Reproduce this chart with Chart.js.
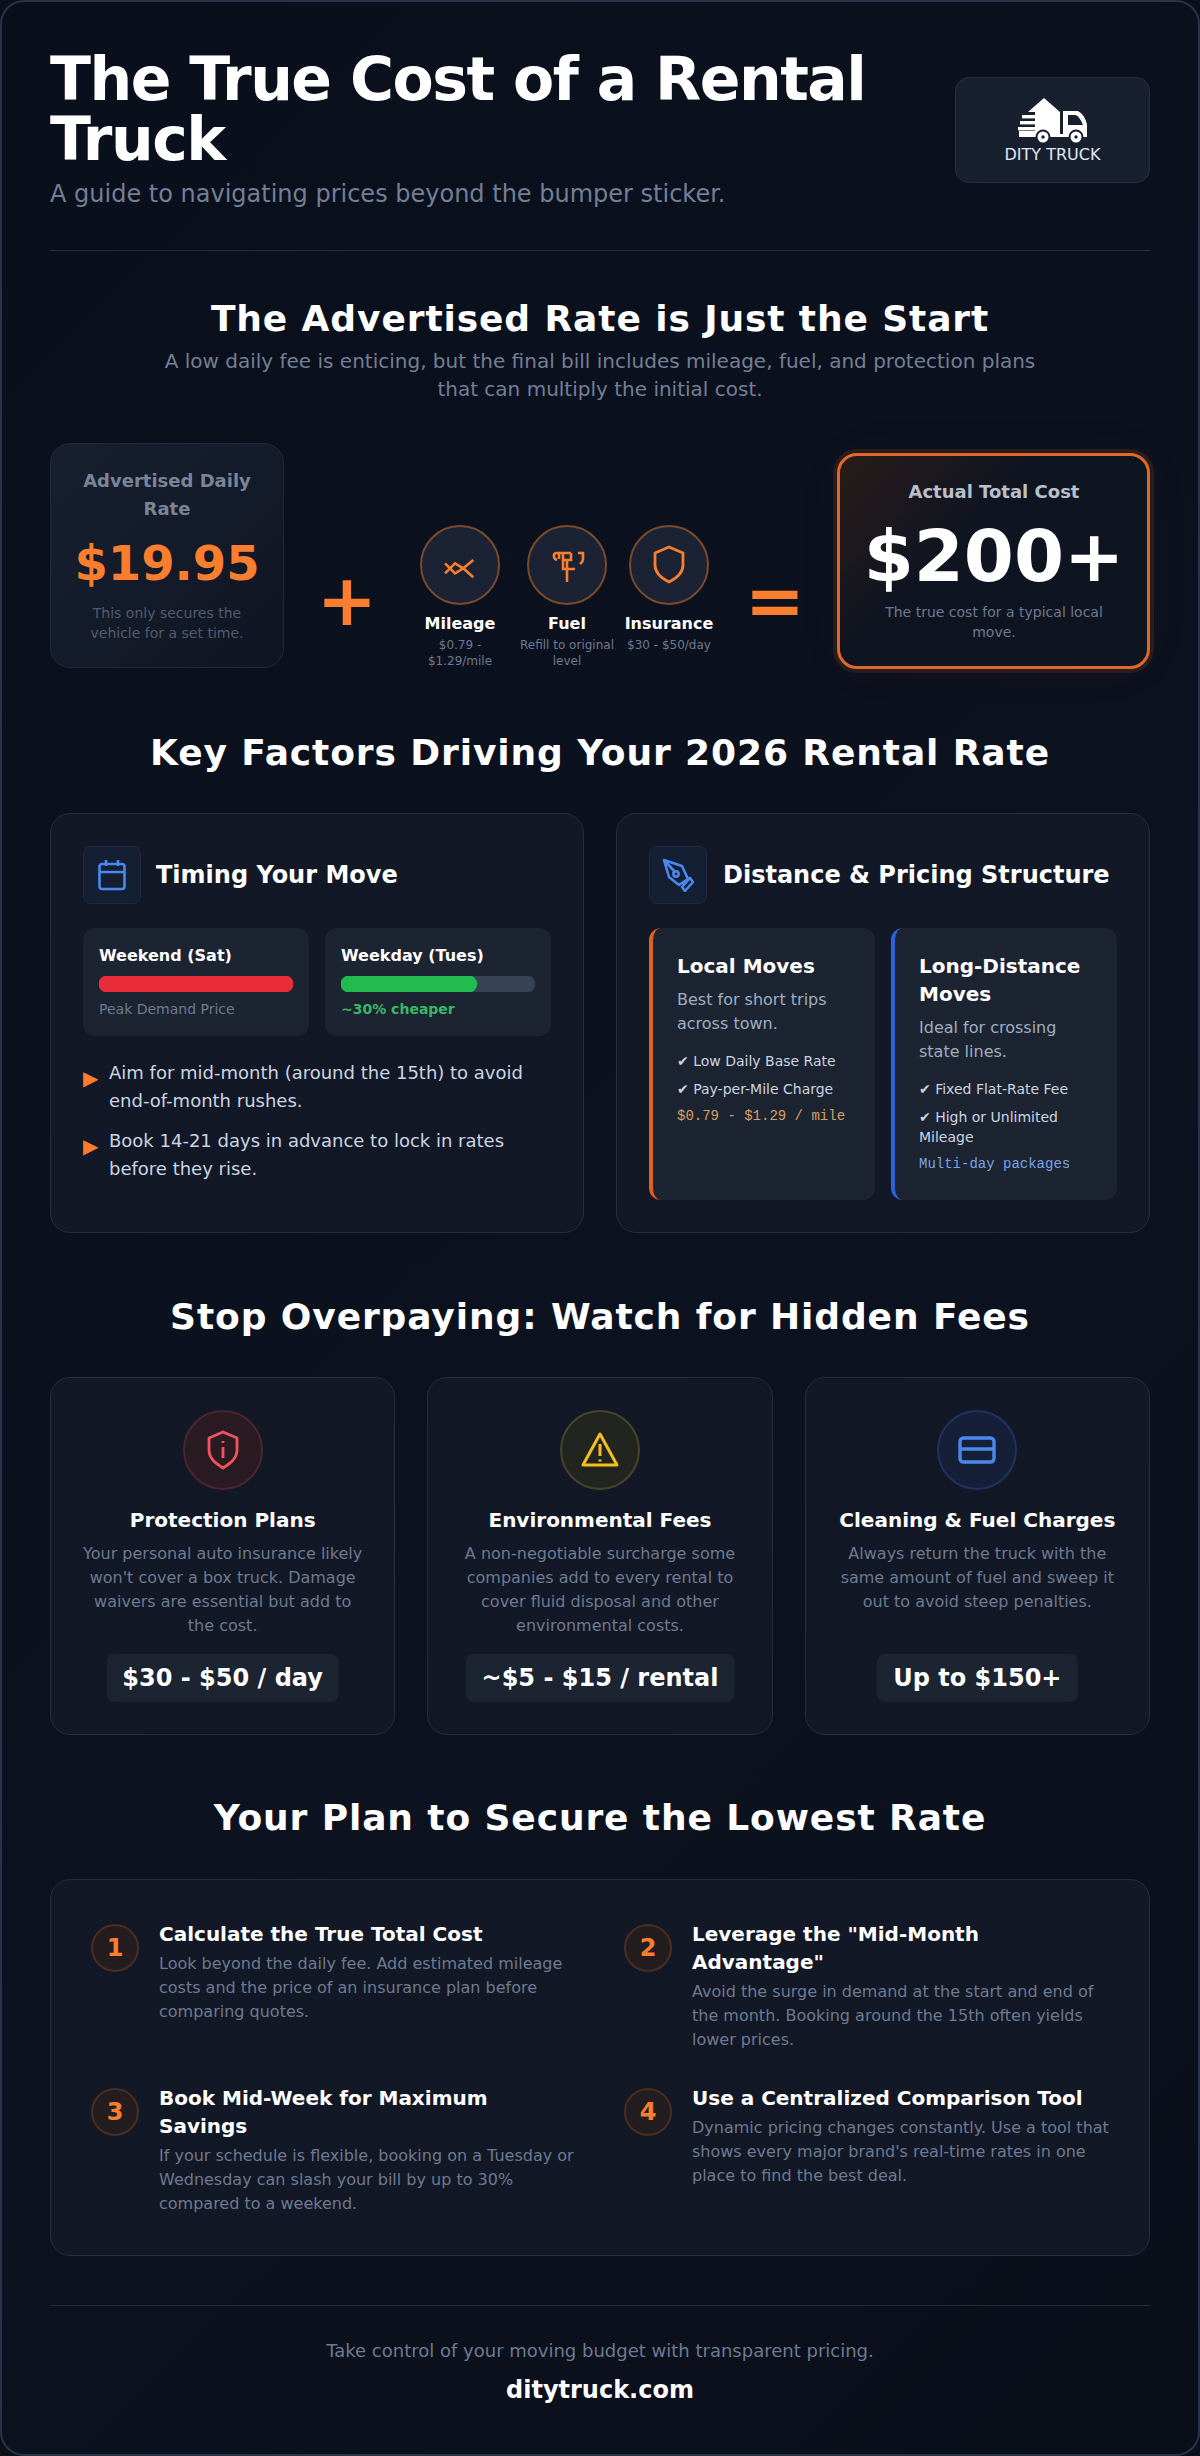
<!DOCTYPE html>
<html lang="en">
<head>
<meta charset="utf-8">
<title>The True Cost of a Rental Truck</title>
<script src="https://cdn.jsdelivr.net/npm/chart.js@4"></script>
<style>
* { box-sizing: border-box; margin: 0; padding: 0; }
html, body { width: 1200px; height: 2456px; background: #0a0f1a; overflow: hidden; }
body { font-family: "DejaVu Sans", sans-serif; color: #fff; position: relative; }
.page { position: absolute; inset: 0; border: 2px solid #2a3347; border-radius: 24px; background: linear-gradient(135deg, #0a0f1c, #0c121f 60%, #0a0f1a); }
.abs { position: absolute; }
.card { position: absolute; background: #121826; border: 1px solid #262d3d; border-radius: 20px; }
h1 { position: absolute; left: 50px; top: 49px; width: 860px; font-size: 60px; line-height: 60px; font-weight: 700; letter-spacing: -1.5px; }
.sub { position: absolute; left: 50px; top: 178px; font-size: 24px; line-height: 32px; color: #747f96; }
.rule { position: absolute; left: 50px; width: 1100px; height: 1px; background: #232b3c; }
.h2 { position: absolute; left: 0; width: 1200px; text-align: center; font-size: 36px; line-height: 44px; font-weight: 700; letter-spacing: 0.9px; }
.lead { position: absolute; left: 150px; width: 900px; text-align: center; font-size: 20px; line-height: 28px; color: #747f96; }
.logo { position: absolute; left: 955px; top: 77px; width: 195px; height: 106px; background: #182030; border: 1px solid #262f41; border-radius: 14px; }
.logo svg { position: absolute; left: 62px; top: 20px; }
.logo span { position: absolute; left: 0; width: 100%; top: 66px; text-align: center; font-size: 16px; line-height: 22px; color: #e2e8f0; }
.center { text-align: center; }
.op { position: absolute; font-weight: 700; color: #f97f2f; font-size: 72px; line-height: 80px; text-align: center; width: 80px; }
.ic { position: absolute; width: 80px; height: 80px; border-radius: 50%; background: #1a2233; border: 2px solid #7a4a2c; }
.ic svg, .fee-ic svg { position: absolute; left: 50%; top: 50%; transform: translate(-50%, -50%); }
.ic-lbl { position: absolute; text-align: center; font-size: 16px; font-weight: 700; line-height: 22px; }
.ic-sub { position: absolute; text-align: center; font-size: 12px; line-height: 16px; color: #6f7a90; }
.tile { position: absolute; width: 58px; height: 58px; background: #151f34; border: 1px solid #1f2a42; border-radius: 8px; }
.tile svg { position: absolute; left: 50%; top: 50%; transform: translate(-50%, -50%); }
.h3 { position: absolute; font-size: 24px; line-height: 32px; font-weight: 700; }
.box { position: absolute; background: #1c2331; border-radius: 12px; }
.box b.t { position: absolute; left: 16px; top: 17px; font-size: 16px; line-height: 22px; }
.box canvas { position: absolute; left: 16px; top: 48px; width: 194px; height: 16px; }
.box span { position: absolute; left: 16px; top: 70px; font-size: 14px; line-height: 22px; }
.tri { position: absolute; left: 83px; font-size: 20px; line-height: 28px; color: #f97f2f; }
.bul { position: absolute; left: 109px; width: 440px; font-size: 18px; line-height: 28px; color: #cbd5e1; }
.plan { position: absolute; top: 928px; width: 226px; height: 272px; background: #1c2331; border-radius: 12px; border-left: 4px solid; padding: 24px; }
.plan h4 { font-size: 20px; line-height: 28px; font-weight: 700; }
.plan p { font-size: 16px; line-height: 24px; color: #a0aec0; margin-top: 8px; margin-bottom: 15px; }
.plan li { list-style: none; font-size: 14px; line-height: 20px; color: #cbd5e1; margin-bottom: 8px; }
.plan code { display: block; font-family: "Liberation Mono", monospace; font-size: 14px; line-height: 18px; }
.fee { position: absolute; top: 1377px; height: 358px; width: 345.33px; background: #121826; border: 1px solid #262d3d; border-radius: 20px; text-align: center; }
.fee-ic { position: absolute; left: calc(50% - 40px); top: 32px; width: 80px; height: 80px; border-radius: 50%; border: 2px solid; }
.fee h4 { position: absolute; left: 0; width: 100%; top: 128px; font-size: 20px; line-height: 28px; }
.fee p { position: absolute; left: 28px; right: 28px; top: 164px; font-size: 16px; line-height: 24px; color: #6f7a90; }
.fee b { position: absolute; left: 50%; transform: translateX(-50%); top: 276px; height: 48px; padding: 0 16px; background: #1c2331; border-radius: 8px; font-size: 24px; line-height: 48px; white-space: nowrap; }
.num { position: absolute; width: 48px; height: 48px; border-radius: 50%; background: #241d20; border: 2px solid #4a2e20; color: #f97f2f; font-size: 24px; font-weight: 700; line-height: 44px; text-align: center; }
.step { position: absolute; width: 417px; }
.step h4 { font-size: 20px; line-height: 28px; font-weight: 700; }
.step p { font-size: 16px; line-height: 24px; color: #6f7a90; margin-top: 4px; }
</style>
</head>
<body>
<div class="page"></div>

<h1>The True Cost of a Rental Truck</h1>
<div class="sub">A guide to navigating prices beyond the bumper sticker.</div>
<div class="logo">
  <svg width="70" height="50" viewBox="0 0 70 50" fill="#fff">
    <path d="M26 0 L42 14 H38 L42 14 V36 H69 V28 C68 20 63 13 58 13 H45 V36 H1 V33 H17 V14 H10 Z"/>
    <path d="M45 13 H58 C63 13 68 20 69 28 V39 H1 V36 H45 Z"/>
    <path d="M50 17 H57 C60 17 63 22 65 27 H50 Z" fill="#182030"/>
    <rect x="4" y="17" width="15" height="3.4"/><rect x="2" y="23" width="17" height="3.4"/><rect x="0" y="29" width="19" height="3.4"/>
    <circle cx="25" cy="39" r="7.5" fill="#182030"/><circle cx="25" cy="39" r="5.5"/><circle cx="25" cy="39" r="1.7" fill="#182030"/>
    <circle cx="58" cy="39" r="7.5" fill="#182030"/><circle cx="58" cy="39" r="5.5"/><circle cx="58" cy="39" r="1.7" fill="#182030"/>
  </svg>
  <span>DITY TRUCK</span>
</div>
<div class="rule" style="top:250px"></div>

<div class="h2" style="top:297px">The Advertised Rate is Just the Start</div>
<div class="lead" style="top:347px">A low daily fee is enticing, but the final bill includes mileage, fuel, and protection plans that can multiply the initial cost.</div>

<div class="card" style="left:50px;top:443px;width:234px;height:225px;background:linear-gradient(135deg,#182030,#0f1522);border-color:#222a3a"></div>
<div class="abs center" style="left:66px;top:467px;width:202px;font-size:18px;line-height:28px;font-weight:700;color:#7b859a">Advertised Daily Rate</div>
<div class="abs center" style="left:50px;top:533px;width:234px;font-size:48px;line-height:60px;font-weight:700;color:#f97f2f">$19.95</div>
<div class="abs center" style="left:70px;top:603px;width:194px;font-size:14px;line-height:20px;color:#525c70">This only secures the vehicle for a set time.</div>

<div class="op" style="left:307px;top:560px">+</div>

<div class="ic" style="left:420px;top:525px"><svg width="40" height="28" viewBox="0 0 40 28" fill="none" stroke="#f97f2f" stroke-width="2.6"><path d="M5 12.3 L15 22.3 L23.3 17.3 L15 12.3 L5 22.3 M23.3 17.3 L33.3 9 M23.3 17.3 L33.3 26.3"/></svg></div>
<div class="ic" style="left:527px;top:525px"><svg width="40" height="40" viewBox="0 0 40 40" fill="none" stroke="#f97f2f" stroke-width="2.6"><path d="M10 15 C6 14 6 8 9 8 H24 M12 8 V14 M16 8 V15 H24 V8 M20 15 V37 M16 15 V24 H28 M31 8 H36 V14 C36 17 34 18 33 19"/></svg></div>
<div class="ic" style="left:629px;top:525px"><svg width="34" height="40" viewBox="0 0 34 40" fill="none" stroke="#f97f2f" stroke-width="2.8" stroke-linejoin="round"><path d="M17 2 L31 8 V20 C31 28 25 33 17 37 C9 33 3 28 3 20 V8 Z"/></svg></div>
<div class="ic-lbl" style="left:420px;top:613px;width:80px">Mileage</div>
<div class="ic-lbl" style="left:517px;top:613px;width:100px">Fuel</div>
<div class="ic-lbl" style="left:619px;top:613px;width:100px">Insurance</div>
<div class="ic-sub" style="left:410px;top:637px;width:100px">$0.79 - $1.29/mile</div>
<div class="ic-sub" style="left:517px;top:637px;width:100px">Refill to original level</div>
<div class="ic-sub" style="left:619px;top:637px;width:100px">$30 - $50/day</div>

<div class="op" style="left:735px;top:560px">=</div>

<div class="abs" style="left:837px;top:453px;width:313px;height:216px;border:3px solid #e0692a;border-radius:20px;background:linear-gradient(135deg,#291c1a,#0f1421 40%);box-shadow:0 0 0 4px rgba(249,115,22,.12),0 0 60px rgba(249,115,22,.03)"></div>
<div class="abs center" style="left:838px;top:478px;width:312px;font-size:18px;line-height:28px;font-weight:700;color:#b8c0cc">Actual Total Cost</div>
<div class="abs center" style="left:838px;top:512px;width:312px;font-size:72px;line-height:88px;font-weight:700">$200+</div>
<div class="abs center" style="left:874px;top:602px;width:240px;font-size:14px;line-height:20px;color:#6f7a90">The true cost for a typical local move.</div>

<div class="h2" style="top:731px">Key Factors Driving Your 2026 Rental Rate</div>

<div class="card" style="left:50px;top:813px;width:534px;height:420px"></div>
<div class="tile" style="left:83px;top:846px"><svg width="30" height="32" viewBox="0 0 30 32" fill="none" stroke="#4a88ec" stroke-width="2.6" stroke-linejoin="round"><rect x="2.5" y="5" width="25" height="25" rx="2.5"/><path d="M2.5 13 H27.5 M9 1 V7 M21 1 V7"/></svg></div>
<div class="h3" style="left:156px;top:859px">Timing Your Move</div>
<div class="box" style="left:83px;top:928px;width:226px;height:108px">
  <b class="t" id="lbl0"></b><canvas id="bar0" width="194" height="16"></canvas>
  <span id="note0" style="color:#6f7a90"></span>
</div>
<div class="box" style="left:325px;top:928px;width:226px;height:108px">
  <b class="t" id="lbl1"></b><canvas id="bar1" width="194" height="16"></canvas>
  <span id="note1" style="color:#36b866;font-weight:700"></span>
</div>
<div class="tri" style="top:1064px">&#9654;</div>
<div class="bul" style="top:1059px">Aim for mid-month (around the 15th) to avoid end-of-month rushes.</div>
<div class="tri" style="top:1132px">&#9654;</div>
<div class="bul" style="top:1127px">Book 14-21 days in advance to lock in rates before they rise.</div>

<div class="card" style="left:616px;top:813px;width:534px;height:420px"></div>
<div class="tile" style="left:649px;top:846px"><svg width="32" height="34" viewBox="0 0 32 34" fill="none" stroke="#4a88ec" stroke-width="2.6" stroke-linejoin="round"><path d="M2 2 L20 8 L26 21 L17 27 L7 19 Z M2 2 L13 14 M20 29 L28 20 L31 24 L23 33 Z"/><circle cx="14" cy="16" r="2.6"/></svg></div>
<div class="h3" style="left:723px;top:859px">Distance &amp; Pricing Structure</div>
<div class="plan" style="left:649px;border-color:#e0601f">
  <h4>Local Moves</h4>
  <p>Best for short trips across town.</p>
  <ul><li>&#10004; Low Daily Base Rate</li><li>&#10004; Pay-per-Mile Charge</li></ul>
  <code style="color:#d9a066">$0.79 - $1.29 / mile</code>
</div>
<div class="plan" style="left:891px;border-color:#2f62d8">
  <h4>Long-Distance Moves</h4>
  <p>Ideal for crossing state lines.</p>
  <ul><li>&#10004; Fixed Flat-Rate Fee</li><li>&#10004; High or Unlimited Mileage</li></ul>
  <code style="color:#7ba4e8">Multi-day packages</code>
</div>

<div class="h2" style="top:1295px">Stop Overpaying: Watch for Hidden Fees</div>

<div class="fee" style="left:50px">
  <div class="fee-ic" style="background:#2a1a22;border-color:#4c2530"><svg width="32" height="40" viewBox="0 0 32 40" fill="none" stroke="#ef5460" stroke-width="2.8" stroke-linejoin="round"><path d="M16 2 L30 8 V20 C30 28 24 33 16 38 C8 33 2 28 2 20 V8 Z M16 17 V28 M16 11 V13"/></svg></div>
  <h4>Protection Plans</h4>
  <p>Your personal auto insurance likely won't cover a box truck. Damage waivers are essential but add to the cost.</p>
  <b>$30 - $50 / day</b>
</div>
<div class="fee" style="left:427.33px">
  <div class="fee-ic" style="background:#22251f;border-color:#48442a"><svg width="42" height="38" viewBox="0 0 42 38" fill="none" stroke="#f4bd22" stroke-width="3" stroke-linejoin="round"><path d="M21 3 L38 34 H4 Z M21 13 V25 M21 28.5 V30.5"/></svg></div>
  <h4>Environmental Fees</h4>
  <p>A non-negotiable surcharge some companies add to every rental to cover fluid disposal and other environmental costs.</p>
  <b>~$5 - $15 / rental</b>
</div>
<div class="fee" style="left:804.67px">
  <div class="fee-ic" style="background:#152038;border-color:#1f3360"><svg width="38" height="28" viewBox="0 0 38 28" fill="none" stroke="#4a88ec" stroke-width="3.4"><rect x="2" y="2" width="34" height="24" rx="3.5"/><path d="M2 13 H36"/></svg></div>
  <h4>Cleaning &amp; Fuel Charges</h4>
  <p>Always return the truck with the same amount of fuel and sweep it out to avoid steep penalties.</p>
  <b>Up to $150+</b>
</div>

<div class="h2" style="top:1796px">Your Plan to Secure the Lowest Rate</div>

<div class="card" style="left:50px;top:1879px;width:1100px;height:377px"></div>
<div class="num" style="left:91px;top:1924px">1</div>
<div class="step" style="left:159px;top:1920px"><h4>Calculate the True Total Cost</h4><p>Look beyond the daily fee. Add estimated mileage costs and the price of an insurance plan before comparing quotes.</p></div>
<div class="num" style="left:624px;top:1924px">2</div>
<div class="step" style="left:692px;top:1920px"><h4>Leverage the "Mid-Month Advantage"</h4><p>Avoid the surge in demand at the start and end of the month. Booking around the 15th often yields lower prices.</p></div>
<div class="num" style="left:91px;top:2088px">3</div>
<div class="step" style="left:159px;top:2084px"><h4>Book Mid-Week for Maximum Savings</h4><p>If your schedule is flexible, booking on a Tuesday or Wednesday can slash your bill by up to 30% compared to a weekend.</p></div>
<div class="num" style="left:624px;top:2088px">4</div>
<div class="step" style="left:692px;top:2084px"><h4>Use a Centralized Comparison Tool</h4><p>Dynamic pricing changes constantly. Use a tool that shows every major brand's real-time rates in one place to find the best deal.</p></div>

<div class="rule" style="top:2305px"></div>
<div class="abs center" style="left:0;top:2337px;width:1200px;font-size:18px;line-height:28px;color:#6f7a90">Take control of your moving budget with transparent pricing.</div>
<div class="abs center" style="left:0;top:2374px;width:1200px;font-size:24px;line-height:32px;font-weight:700">ditytruck.com</div>

<script>
const dayLabels = ['Weekend (Sat)', 'Weekday (Tues)'];
const relativePrice = [100, 70];
const fullScale = [100, 100];
const barColors = ['#e92c38', '#22bb50'];
const priceNotes = ['Peak Demand Price', '~30% cheaper'];
const trackColor = '#374254';

function createPriceBar(canvas, index) {
    return new Chart(canvas, {
        type: 'bar',
        data: {
            labels: [dayLabels[index]],
            datasets: [
                {
                    data: [relativePrice[index]],
                    backgroundColor: barColors[index],
                    borderRadius: 8,
                    borderSkipped: false,
                    barPercentage: 1,
                    categoryPercentage: 1,
                    grouped: false,
                    order: 1
                },
                {
                    data: [fullScale[index]],
                    backgroundColor: trackColor,
                    borderRadius: 8,
                    borderSkipped: false,
                    barPercentage: 1,
                    categoryPercentage: 1,
                    grouped: false,
                    order: 2
                }
            ]
        },
        options: {
            indexAxis: 'y',
            responsive: false,
            animation: false,
            layout: { padding: 0 },
            plugins: { legend: { display: false }, tooltip: { enabled: false } },
            scales: {
                x: { display: false, min: 0, max: 100 },
                y: { display: false }
            }
        }
    });
}

dayLabels.forEach((label, i) => {
    document.getElementById('lbl' + i).textContent = label;
    document.getElementById('note' + i).textContent = priceNotes[i];
    createPriceBar(document.getElementById('bar' + i), i);
});
</script>
</body>
</html>
